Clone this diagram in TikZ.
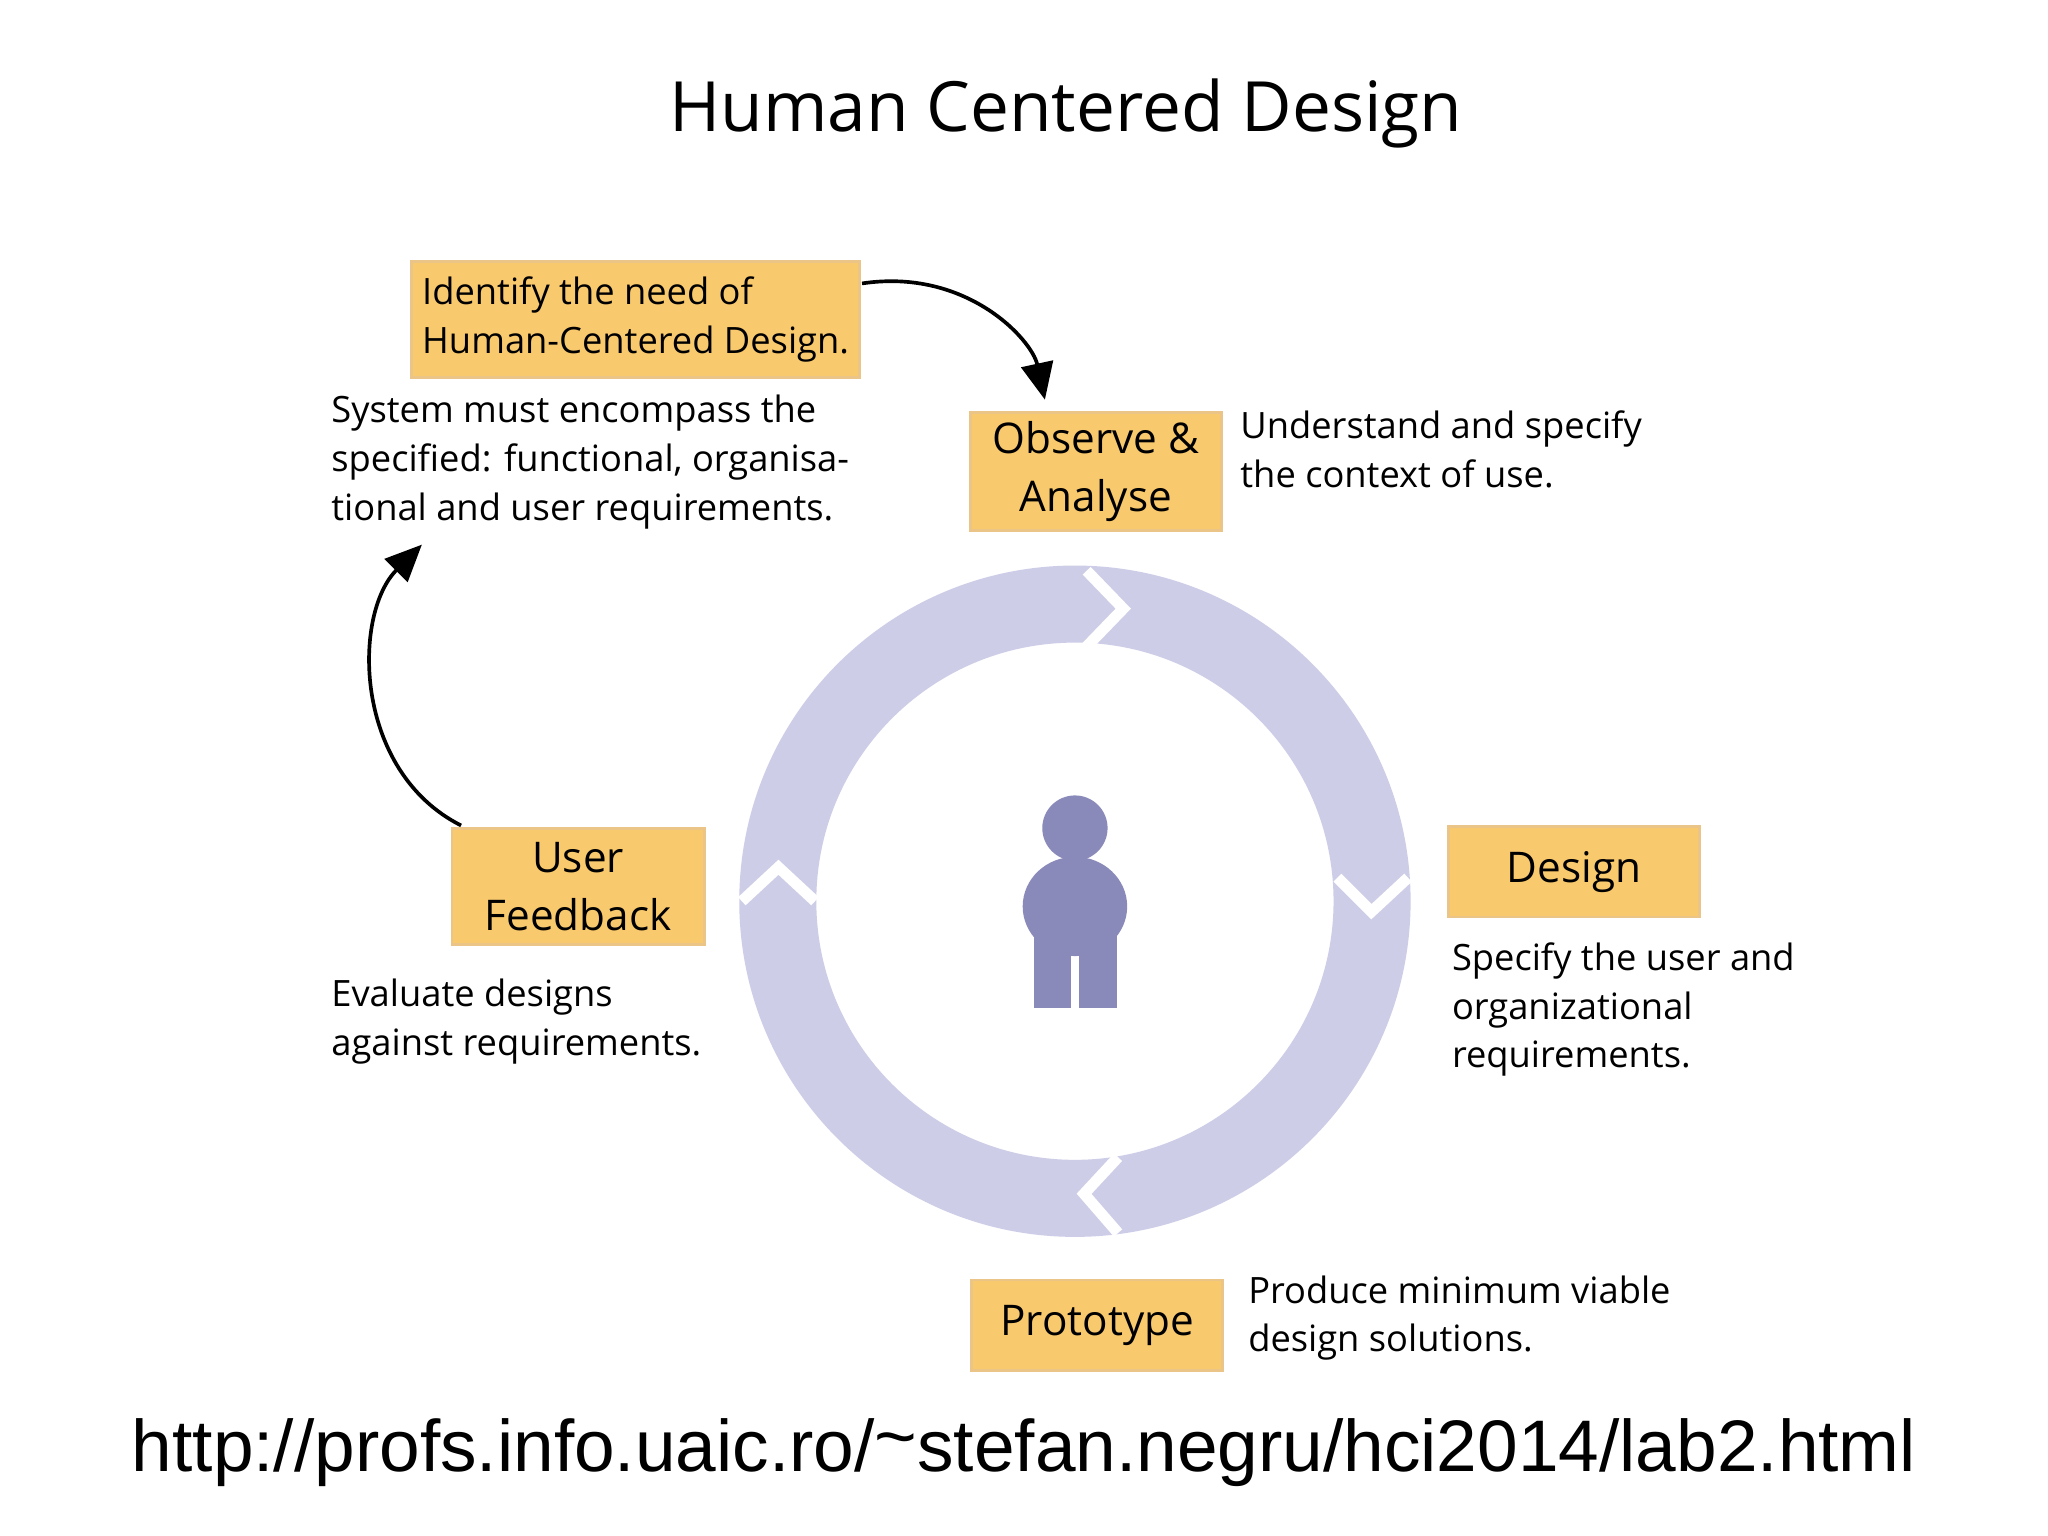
\documentclass[tikz,border=0pt]{standalone}
\usepackage{fontspec}
\setmainfont{Open Sans}
\newfontfamily\urlfont{Liberation Sans}
\usetikzlibrary{arrows.meta}
\definecolor{boxor}{HTML}{F9C96E}
\definecolor{boxbd}{HTML}{EBC488}
\definecolor{ringc}{HTML}{CDCDE8}
\definecolor{pers}{HTML}{8A8ABA}
\tikzset{
  stage/.style={fill=boxor,draw=boxbd,line width=0.6pt,inner sep=0pt,align=center,font=\fontsize{9.2}{12.6}\selectfont},
  note/.style={anchor=north west,align=left,inner sep=0pt,font=\fontsize{7.9}{10.6}\selectfont},
  flow/.style={-{Triangle[length=8pt,width=7pt]},line width=0.8pt},
  chev/.style={white,line width=2.4pt,line join=miter}
}
\begin{document}
\begin{tikzpicture}[x=0.01cm,y=-0.01cm]
\useasboundingbox (0,0) rectangle (1568,1176);
\fill[white] (0,0) rectangle (1568,1176);
\node (title) at (816,87) {\fontsize{15.1}{18}\selectfont Human Centered Design};
% ring
\fill[ringc,even odd rule] (823,690) circle[radius=257] (823,690) circle[radius=198];
\draw[chev] (832,437) -- (860,466) -- (832,495);
\draw[chev] (1024,672) -- (1050,698) -- (1078,672);
\draw[chev] (856,886) -- (830,914) -- (856,944);
\draw[chev] (568,690) -- (596,664) -- (624,690);
% person
\fill[pers] (823,634) circle[radius=25];
\fill[pers] (823,694) ellipse[x radius=40,y radius=38];
\fill[pers] (792,700) rectangle (820,772);
\fill[pers] (826,700) rectangle (855,772);
% boxes
\node[stage,minimum width=3.43cm,minimum height=0.89cm,align=left,anchor=north west,font=\fontsize{7.9}{10.8}\selectfont] (ident) at (314,199) {Identify the need of\\Human-Centered Design.};
\node[stage,minimum width=1.92cm,minimum height=0.90cm,anchor=north west] (obs) at (742,315) {Observe \&\\Analyse};
\node[stage,minimum width=1.92cm,minimum height=0.69cm,anchor=north west] (des) at (1108,632) {Design};
\node[stage,minimum width=1.93cm,minimum height=0.89cm,anchor=north west] (uf) at (345,633) {User\\Feedback};
\node[stage,minimum width=1.92cm,minimum height=0.69cm,anchor=north west] (proto) at (743,979) {Prototype};
% notes
\node[note] (n1) at (253,302) {System must encompass the\\specified: functional, organisa-\\tional and user requirements.};
\node[note] (n2) at (949,314) {Understand and specify\\the context of use.};
\node[note] (n3) at (1111,721) {Specify the user and\\organizational\\requirements.};
\node[note] (n4) at (253,749) {Evaluate designs\\against requirements.};
\node[note] (n5) at (955,976) {Produce minimum viable\\design solutions.};
% arrows
\coordinate (a1) at (660,217);
\coordinate (a2) at (800,306);
\draw[flow] (a1) .. controls (740,205) and (790,260) .. (a2);
\coordinate (b1) at (353,632);
\coordinate (b2) at (323,417);
\draw[flow] (b1) .. controls (270,590) and (270,470) .. (b2);
\node (url) at (784,1112) {\urlfont\fontsize{15.9}{20}\selectfont http://profs.info.uaic.ro/\raisebox{0.25ex}{\char`\~}stefan.negru/hci2014/lab2.html};
\end{tikzpicture}
\end{document}
